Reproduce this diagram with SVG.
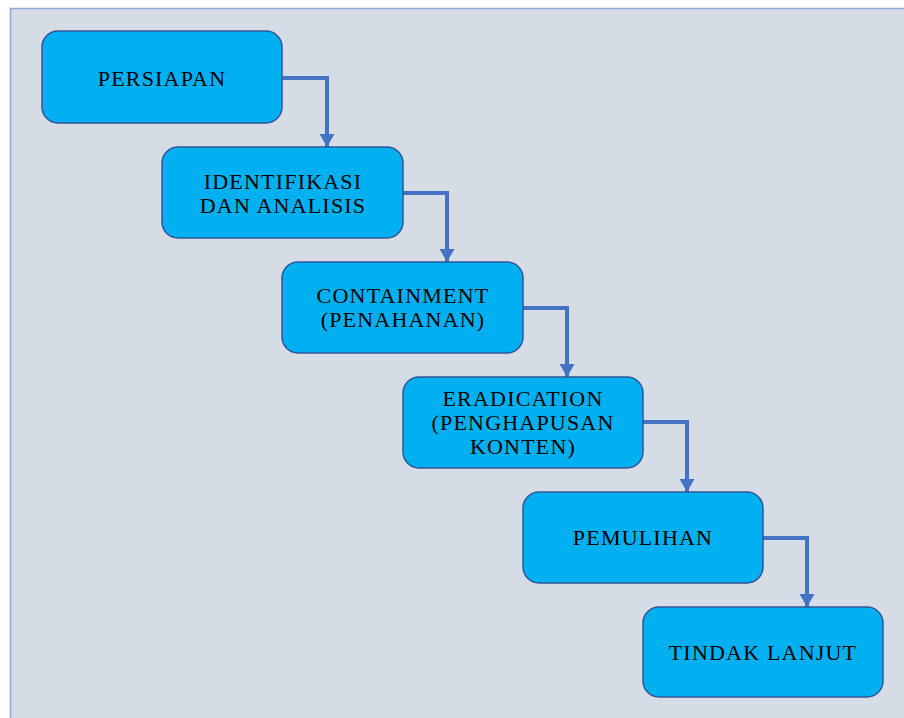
<svg xmlns="http://www.w3.org/2000/svg" width="904" height="718" viewBox="0 0 904 718">
<defs>
<style>
.box{fill:#00b0f0;stroke:#2f5597;stroke-width:1.5}
.lbl{font-family:"Liberation Serif","Times New Roman",serif;font-size:22px;letter-spacing:1.2px;fill:#000;text-anchor:middle}
.con{fill:none;stroke:#4472c4;stroke-width:4}
</style>
<marker id="ah" markerWidth="13" markerHeight="15" refX="13" refY="7.5" orient="auto" markerUnits="userSpaceOnUse" viewBox="0 0 13 15">
<path d="M0,0 L13,7.5 L0,15 Z" fill="#4472c4"/>
</marker>
</defs>
<rect x="0" y="0" width="904" height="718" fill="#ffffff"/>
<rect x="10.5" y="8.5" width="900" height="720" fill="#d6dce5" stroke="#8eaadb" stroke-width="1.5"/>
<g id="connectors">
<path class="con" d="M282,78 H327 V147" marker-end="url(#ah)"/>
<path class="con" d="M403,193 H447 V262" marker-end="url(#ah)"/>
<path class="con" d="M523,308 H567 V377" marker-end="url(#ah)"/>
<path class="con" d="M643,422 H687 V492" marker-end="url(#ah)"/>
<path class="con" d="M763,538 H807 V607" marker-end="url(#ah)"/>
</g>
<g id="n1"><rect class="box" x="42" y="31" width="240" height="92" rx="16"/><text class="lbl" x="162" y="86">PERSIAPAN</text></g>
<g id="n2"><rect class="box" x="162" y="147" width="241" height="91" rx="16"/><text class="lbl" x="283" y="189">IDENTIFIKASI</text><text class="lbl" x="283" y="213">DAN ANALISIS</text></g>
<g id="n3"><rect class="box" x="282" y="262" width="241" height="91" rx="16"/><text class="lbl" x="403" y="303">CONTAINMENT</text><text class="lbl" x="403" y="327">(PENAHANAN)</text></g>
<g id="n4"><rect class="box" x="403" y="377" width="240" height="91" rx="16"/><text class="lbl" x="523" y="406">ERADICATION</text><text class="lbl" x="523" y="430">(PENGHAPUSAN</text><text class="lbl" x="523" y="454">KONTEN)</text></g>
<g id="n5"><rect class="box" x="523" y="492" width="240" height="91" rx="16"/><text class="lbl" x="643" y="545">PEMULIHAN</text></g>
<g id="n6"><rect class="box" x="643" y="607" width="240" height="90" rx="16"/><text class="lbl" x="763" y="660">TINDAK LANJUT</text></g>
</svg>
